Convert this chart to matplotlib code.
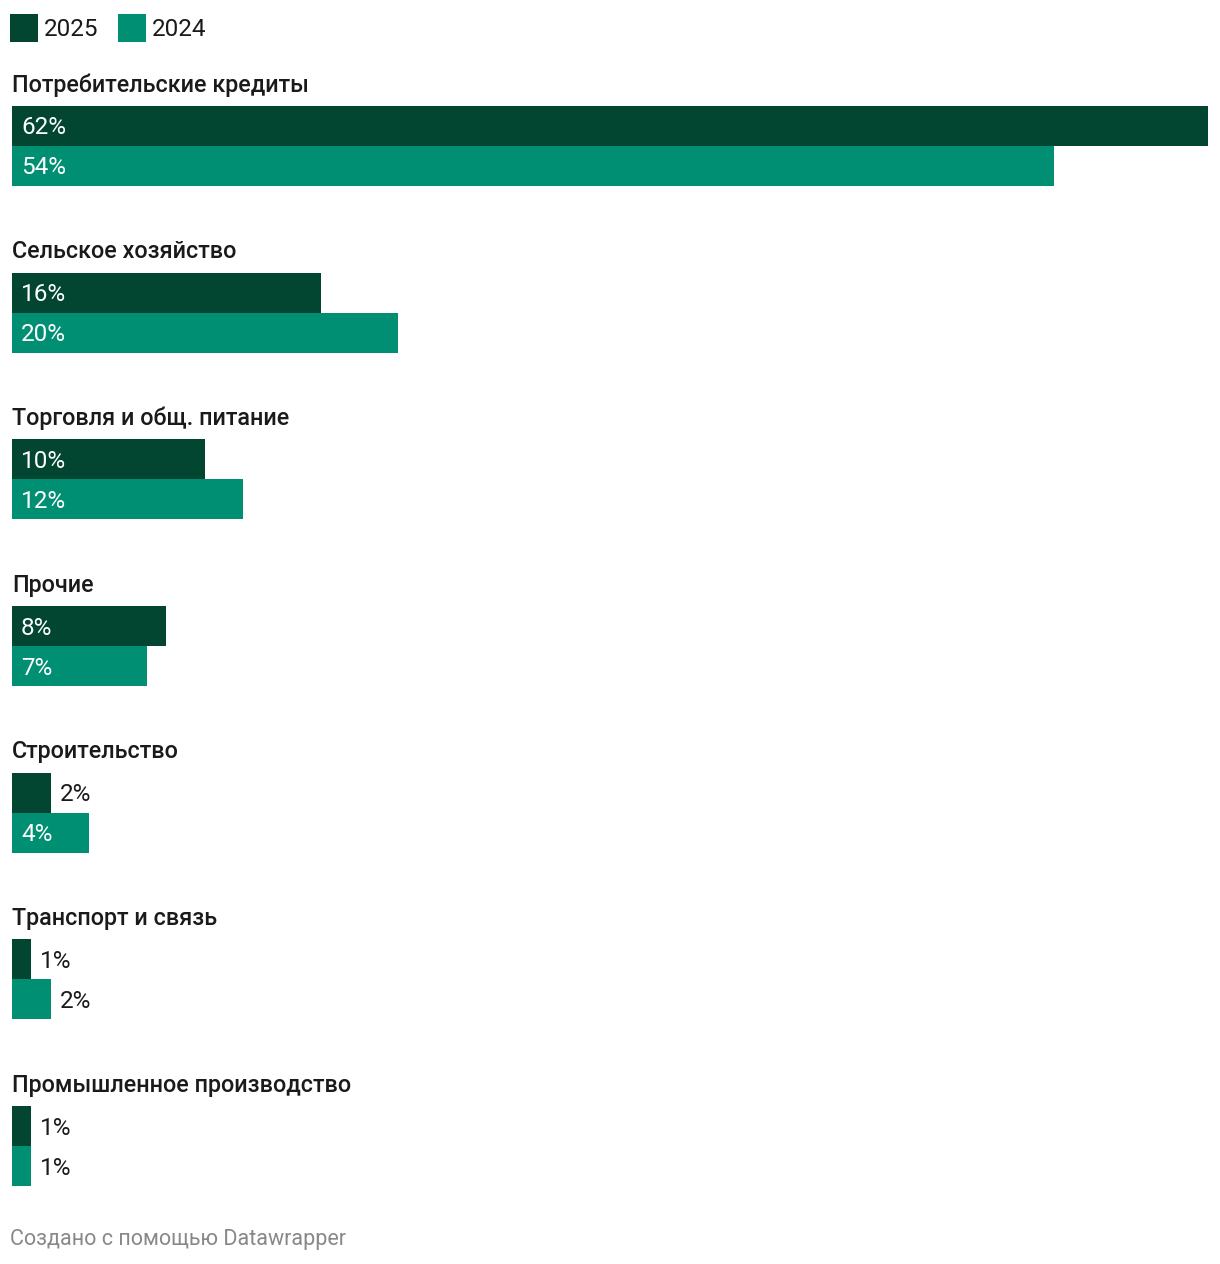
import matplotlib.pyplot as plt
from matplotlib.patches import Rectangle

# --------------------------------
# Data
# --------------------------------
categories = [
    "Потребительские кредиты",
    "Сельское хозяйство",
    "Торговля и общ. питание",
    "Прочие",
    "Строительство",
    "Транспорт и связь",
    "Промышленное производство",
]
values_2025 = [62, 16, 10, 8, 2, 1, 1]
values_2024 = [54, 20, 12, 7, 4, 2, 1]
series_names = ["2025", "2024"]

DARK = "#024631"
TEAL = "#008f72"
TEXT = "#1a1a1a"

plt.rcParams["font.family"] = ["Roboto", "DejaVu Sans"]

W, H = 1220, 1264
fig = plt.figure(figsize=(W / 100, H / 100), dpi=100)
fig.patch.set_facecolor("white")

# axes spans the bar area horizontally, whole figure vertically (pixel rows)
ax = fig.add_axes([12 / W, 0, 1196 / W, 1])
ax.set_xlim(0, 62)
ax.set_ylim(H, 0)
ax.axis("off")

bar_h = 40
first_top = 106
step = 166.67

for i, cat in enumerate(categories):
    top = first_top + i * step
    ax.text(0, top - 21, cat, fontsize=16.8, fontweight="medium",
            color=TEXT, va="center", ha="left")
    for j, (vals, col) in enumerate([(values_2025, DARK), (values_2024, TEAL)]):
        v = vals[i]
        y = top + j * bar_h
        ax.barh(y, v, height=bar_h, align="edge", color=col, linewidth=0)
        label = f"{v}%"
        if v >= 4:
            ax.annotate(label, xy=(0, y + bar_h / 2 + 2), xytext=(9, 0),
                        textcoords="offset pixels", fontsize=17.5,
                        color="white", va="center", ha="left")
        else:
            ax.annotate(label, xy=(v, y + bar_h / 2 + 2), xytext=(9, 0),
                        textcoords="offset pixels", fontsize=17.5,
                        color=TEXT, va="center", ha="left")

# --------------------------------
# Legend
# --------------------------------
lx = 10
for name, col in zip(series_names, [DARK, TEAL]):
    fig.patches.append(Rectangle((lx / W, 1 - 42 / H), 28 / W, 28 / H,
                                 transform=fig.transFigure, color=col,
                                 linewidth=0))
    fig.text((lx + 34) / W, 1 - 29 / H, name, fontsize=17.5, color=TEXT,
             va="center", ha="left")
    lx += 108

# footer
fig.text(10 / W, 1 - 1240 / H, "Создано с помощью Datawrapper",
         fontsize=15.5, color="#888888", va="center", ha="left")

fig.savefig("out.png", dpi=100, facecolor="white")
